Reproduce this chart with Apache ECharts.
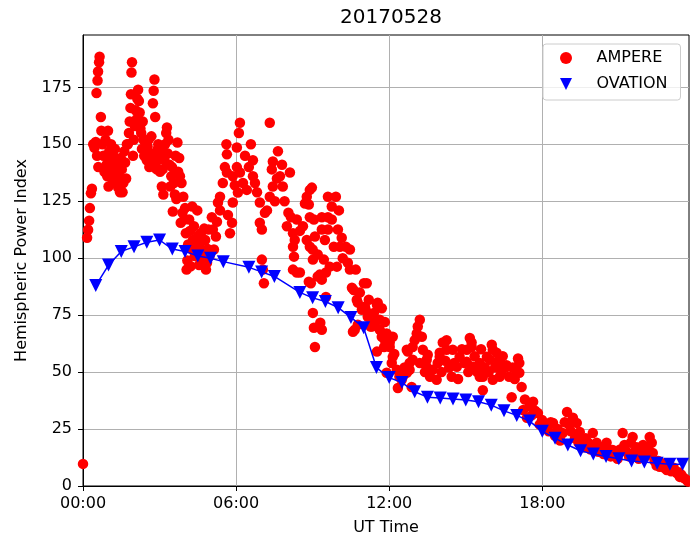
<!DOCTYPE html>
<html>
<head>
<meta charset="utf-8">
<title>20170528 Hemispheric Power</title>
<script src="https://cdn.jsdelivr.net/npm/echarts@6/dist/echarts.min.js"></script>
<style>
  html, body { margin: 0; padding: 0; background: #fff; }
  #chart { width: 690px; height: 544px; }
</style>
</head>
<body>
<div id="chart"></div>
<script>
// Hemispheric power index for 2017-05-28, UT hours on the x axis.
const chartTitle = '20170528';
const xTicks = [0, 6, 12, 18];
const yTicks = [0, 25, 50, 75, 100, 125, 150, 175];

// AMPERE estimates: [UT hour, power index]
const ampere = [
  [0.00, 9.7],
  [0.16, 109], [0.20, 112.5], [0.24, 116.5], [0.27, 122], [0.31, 128.5], [0.35, 130.5],
  [0.40, 150], [0.45, 148.5], [0.50, 151], [0.53, 172.5], [0.57, 178], [0.59, 182], [0.63, 186], [0.65, 188.5], [0.55, 145], [0.60, 140],
  [0.70, 162], [0.72, 156], [0.76, 150], [0.80, 145], [0.84, 138], [0.88, 152], [0.92, 141], [0.95, 136], [0.98, 156], [1.00, 131.5],
  [1.03, 147], [1.06, 143], [1.10, 150], [1.13, 137.5], [1.16, 133], [1.19, 145], [1.22, 140], [1.25, 148], [1.28, 135], [1.31, 142],
  [1.34, 138], [1.38, 131], [1.41, 136], [1.45, 129], [1.48, 144], [1.52, 139], [1.55, 129], [1.58, 133], [1.62, 147], [1.65, 142],
  [1.69, 135], [1.72, 150], [1.76, 150], [1.80, 155], [1.83, 160], [1.86, 166], [1.88, 172], [1.90, 181.5], [1.92, 186], [1.96, 145], [1.99, 152],
  [2.03, 158], [2.06, 165], [2.10, 161], [2.13, 170], [2.16, 174], [2.19, 169], [2.22, 164], [2.25, 157], [2.28, 155], [2.31, 148],
  [2.34, 160], [2.37, 152], [2.40, 145], [2.44, 146], [2.47, 150], [2.50, 143], [2.53, 149], [2.57, 152], [2.60, 140], [2.64, 146],
  [2.68, 153.5], [2.71, 145], [2.74, 168], [2.77, 173.5], [2.80, 178.5], [2.83, 162], [2.86, 142], [2.89, 139], [2.92, 147.8], [2.95, 150], [2.98, 144],
  [3.02, 138], [3.05, 147], [3.09, 131.5], [3.12, 139], [3.15, 128], [3.19, 143], [3.22, 150], [3.26, 155], [3.29, 157.4], [3.32, 146],
  [3.35, 152], [3.39, 141], [3.42, 131.5], [3.46, 136], [3.49, 140], [3.52, 120.5], [3.56, 133], [3.60, 128], [3.63, 145], [3.66, 126],
  [3.70, 150.8], [3.73, 138], [3.77, 144], [3.80, 136], [3.83, 115.6], [3.86, 133], [3.90, 120], [3.93, 127],
  [3.97, 117], [4.00, 122], [4.03, 111], [4.06, 95], [4.09, 99], [4.12, 106], [4.16, 117], [4.19, 112], [4.22, 96.5], [4.25, 104],
  [4.28, 122.7], [4.31, 108], [4.35, 114], [4.38, 101], [4.42, 104], [4.45, 108], [4.48, 121], [4.51, 110], [4.55, 97], [4.58, 105],
  [4.62, 111], [4.65, 100.7], [4.69, 108], [4.72, 102], [4.75, 113], [4.79, 108], [4.82, 95], [4.86, 98], [4.89, 104], [4.92, 112.6], [4.96, 101],
  [5.05, 118], [5.13, 103.8], [5.09, 112.6], [5.21, 109.5], [5.25, 116], [5.29, 124.5], [5.37, 127], [5.37, 121], [5.48, 133], [5.56, 140],
  [5.64, 137.6], [5.64, 145.6], [5.62, 150], [5.68, 119], [5.76, 111], [5.84, 115.6], [5.87, 124.5], [5.87, 136], [5.95, 132], [6.03, 148.6],
  [6.03, 140], [6.07, 128.8], [6.11, 155], [6.15, 159.5], [6.15, 137.6], [6.27, 133], [6.35, 145], [6.42, 130], [6.50, 140],
  [6.58, 150], [6.66, 143], [6.66, 136], [6.74, 133], [6.82, 129], [6.93, 124.5], [6.93, 115.6], [7.01, 112.6], [7.01, 99.4], [7.05, 95],
  [7.09, 89], [7.13, 120], [7.21, 121], [7.32, 127], [7.32, 159.5], [7.40, 139], [7.44, 142.5], [7.44, 131.5], [7.52, 125], [7.60, 135],
  [7.64, 147], [7.72, 136], [7.80, 141], [7.83, 131.5], [7.90, 125], [7.99, 114], [8.05, 120], [8.11, 137.6],
  [8.15, 118], [8.23, 111], [8.23, 105], [8.23, 95], [8.27, 100.7], [8.30, 108], [8.38, 117], [8.38, 93.7], [8.50, 93.7], [8.50, 112],
  [8.62, 114], [8.70, 124], [8.77, 108], [8.77, 127], [8.85, 123.6], [8.89, 118], [8.89, 130], [8.89, 105], [8.93, 89], [8.97, 131],
  [9.00, 103.8], [9.01, 99.4], [9.05, 117], [9.01, 76], [9.05, 69.5], [9.09, 61], [9.09, 109.5], [8.85, 89.7],
  [9.20, 101.6], [9.20, 92], [9.28, 92.8], [9.30, 71.7], [9.36, 68.6], [9.36, 90.6], [9.36, 118], [9.36, 112.6], [9.44, 99.4], [9.48, 108],
  [9.52, 93.7], [9.52, 83], [9.60, 118], [9.60, 112.6], [9.60, 127], [9.67, 96.3], [9.75, 117], [9.75, 122.7], [9.83, 105], [9.91, 127],
  [9.95, 96.3], [9.99, 112.6], [10.03, 121], [10.07, 105], [10.14, 109], [10.18, 100],
  [10.30, 105], [10.38, 98], [10.46, 103.8], [10.46, 95], [10.54, 87], [10.58, 67.7], [10.61, 86], [10.65, 68.6], [10.69, 95], [10.73, 81.8],
  [10.77, 80.5], [10.77, 70.8], [10.85, 84.9], [10.93, 77.4], [11.01, 89], [11.05, 78.7], [11.08, 77.4], [11.12, 89], [11.16, 74.3], [11.20, 81.8],
  [11.27, 70], [11.32, 70], [11.40, 76], [11.44, 72], [11.52, 79.6], [11.52, 59], [11.55, 80.5], [11.63, 68.6], [11.63, 73], [11.71, 78],
  [11.71, 65.5], [11.80, 61], [11.83, 64], [11.83, 72], [11.90, 67], [11.90, 49.7], [12.02, 63], [12.02, 61], [12.10, 54], [12.14, 56.7],
  [12.14, 65.5], [12.20, 58], [12.30, 51], [12.34, 43], [12.40, 48],
  [12.49, 46.6], [12.53, 48], [12.60, 52], [12.69, 59.8], [12.69, 49.7], [12.73, 59], [12.80, 54], [12.80, 51], [12.88, 43.5], [12.92, 61],
  [12.92, 55.4], [13.00, 64], [13.08, 67], [13.12, 70], [13.20, 73], [13.20, 54], [13.28, 65.5], [13.32, 59.8], [13.40, 50], [13.47, 55.4],
  [13.51, 57.6], [13.47, 52.3],
  [13.60, 48], [13.71, 51], [13.86, 46.6], [13.90, 54], [13.98, 58.5], [13.98, 56.7], [14.05, 50], [14.10, 63], [14.20, 55], [14.25, 64],
  [14.25, 59.8], [14.35, 52], [14.45, 48], [14.49, 59.8], [14.55, 54], [14.65, 52.3], [14.70, 47], [14.76, 56.7], [14.85, 60], [14.95, 54],
  [15.04, 59.8], [15.04, 54.5],
  [15.10, 50], [15.16, 65], [15.23, 63], [15.23, 61], [15.28, 52.3], [15.35, 57], [15.45, 50], [15.55, 54], [15.55, 48], [15.60, 60],
  [15.67, 42], [15.67, 48], [15.75, 52], [15.83, 56.7], [15.90, 50], [15.94, 55.4], [16.02, 62], [16.06, 59.8], [16.06, 46.6], [16.15, 52],
  [16.21, 58.5], [16.28, 55], [16.33, 48], [16.33, 54], [16.40, 50], [16.45, 57],
  [16.55, 52], [16.60, 53], [16.70, 48], [16.80, 39], [16.84, 52], [16.92, 47], [16.99, 50], [17.05, 56], [17.10, 54], [17.10, 49.7],
  [17.19, 43.5], [17.25, 33.4], [17.32, 38], [17.40, 30], [17.50, 35], [17.58, 31], [17.64, 37], [17.72, 33], [17.83, 32], [17.90, 27], [17.99, 29],
  [18.07, 27], [18.19, 26], [18.25, 24], [18.33, 28], [18.42, 27.7], [18.50, 22], [18.60, 25], [18.70, 20], [18.80, 23.3], [18.88, 28],
  [18.97, 32.5], [19.05, 27], [19.12, 24], [19.20, 30], [19.28, 21], [19.35, 27.7], [19.42, 19], [19.47, 23.7], [19.55, 20], [19.62, 17],
  [19.70, 21], [19.80, 19], [19.90, 16], [19.98, 23.3],
  [20.05, 18], [20.13, 19], [20.20, 15], [20.30, 17], [20.40, 14], [20.52, 19], [20.60, 16], [20.68, 13], [20.76, 15.8], [20.85, 14],
  [20.95, 12], [21.05, 16], [21.15, 23.3], [21.22, 18], [21.30, 15], [21.40, 13], [21.47, 19], [21.54, 21.5], [21.62, 15], [21.70, 17],
  [21.78, 12], [21.85, 14], [21.95, 18],
  [22.05, 13], [22.15, 16], [22.21, 21.5], [22.29, 19], [22.33, 14.5], [22.40, 11], [22.48, 9], [22.55, 11], [22.60, 8.4], [22.70, 10],
  [22.78, 8], [22.88, 7], [22.95, 9], [23.05, 6.5], [23.15, 8], [23.27, 5.7], [23.35, 6], [23.39, 4], [23.45, 5], [23.55, 3.5],
  [23.66, 2.6], [23.72, 2]
];

// OVATION half-hourly values: [UT hour, power index]
const ovation = [
  [0.5, 88], [1.0, 97], [1.5, 103], [2.0, 105], [2.5, 107], [3.0, 108], [3.5, 104], [4.0, 103], [4.5, 101], [5.0, 100],
  [5.5, 98.5], [6.5, 96], [7.0, 94], [7.5, 92], [8.5, 85], [9.0, 82.6], [9.5, 81], [10.0, 78.3], [10.5, 74], [11.0, 69.5],
  [11.5, 52], [12.0, 47.6], [12.5, 45.4], [13.0, 41.4], [13.5, 39], [14.0, 38.6], [14.5, 38.2], [15.0, 37.8], [15.5, 37], [16.0, 35.5],
  [16.5, 33], [17.0, 31], [17.5, 28.5], [18.0, 24], [18.5, 21], [19.0, 18], [19.5, 15.5], [20.0, 14], [20.5, 13], [21.0, 12],
  [21.5, 11], [22.0, 10.5], [22.5, 10], [23.0, 9.5], [23.5, 9.5]
];

const FONT = 'DejaVu Sans';
const downTriangle = 'path://M0,0L2,0L1,2Z';

function hourLabel(v) {
  const h = Math.floor(v + 1e-9);
  const m = Math.round((v - h) * 60);
  return String(h).padStart(2, '0') + ':' + String(m).padStart(2, '0');
}

const chart = echarts.init(document.getElementById('chart'), null, { renderer: 'canvas' });

chart.setOption({
  animation: false,
  backgroundColor: '#ffffff',
  title: {
    text: chartTitle,
    left: 386,
    top: 3,
    textAlign: 'center',
    textStyle: { fontFamily: FONT, fontSize: 20, fontWeight: 'normal', color: '#000' }
  },
  grid: {
    left: 83, right: 1, top: 35, bottom: 58,
    show: true, borderColor: '#000', borderWidth: 1, backgroundColor: 'transparent'
  },
  legend: {
    orient: 'vertical',
    left: 543,
    top: 44,
    padding: [6, 13, 8, 17],
    itemWidth: 13,
    itemHeight: 12,
    itemGap: 10,
    borderColor: '#cccccc',
    borderWidth: 1,
    borderRadius: 3,
    backgroundColor: 'rgba(255,255,255,0.8)',
    selectedMode: false,
    textStyle: { fontFamily: FONT, fontSize: 16, color: '#000', padding: [0, 0, 0, 19] },
    data: [
      { name: 'AMPERE', icon: 'circle' },
      { name: 'OVATION', icon: downTriangle }
    ]
  },
  xAxis: {
    type: 'value',
    min: 0,
    max: 23.75,
    interval: 6,
    name: 'UT Time',
    nameLocation: 'middle',
    nameGap: 34,
    nameTextStyle: { fontFamily: FONT, fontSize: 16, color: '#000' },
    axisLine: { onZero: false, lineStyle: { color: '#000', width: 1 } },
    axisTick: { show: true, length: 5, customValues: xTicks, lineStyle: { color: '#000' } },
    axisLabel: {
      customValues: xTicks,
      formatter: hourLabel,
      margin: 10,
      fontFamily: FONT, fontSize: 16, color: '#000'
    },
    splitLine: { show: true, lineStyle: { color: '#b0b0b0', width: 1 } }
  },
  yAxis: {
    type: 'value',
    min: 0,
    max: 198,
    interval: 25,
    name: 'Hemispheric Power Index',
    nameLocation: 'middle',
    nameGap: 53,
    nameTextStyle: { fontFamily: FONT, fontSize: 16, color: '#000' },
    axisLine: { show: true, lineStyle: { color: '#000', width: 1 } },
    axisTick: { show: true, length: 5, customValues: yTicks, lineStyle: { color: '#000' } },
    axisLabel: {
      customValues: yTicks,
      margin: 11,
      fontFamily: FONT, fontSize: 16, color: '#000'
    },
    splitLine: { show: true, lineStyle: { color: '#b0b0b0', width: 1 } }
  },
  series: [
    {
      name: 'AMPERE',
      type: 'scatter',
      data: ampere,
      symbol: 'circle',
      symbolSize: 10.5,
      itemStyle: { color: '#ff0000', opacity: 1 },
      z: 2
    },
    {
      name: 'OVATION',
      type: 'line',
      data: ovation,
      symbol: downTriangle,
      symbolSize: 13,
      showAllSymbol: true,
      lineStyle: { color: '#0000ff', width: 1.5 },
      itemStyle: { color: '#0000ff', opacity: 1 },
      z: 3
    }
  ]
});
</script>
</body>
</html>
